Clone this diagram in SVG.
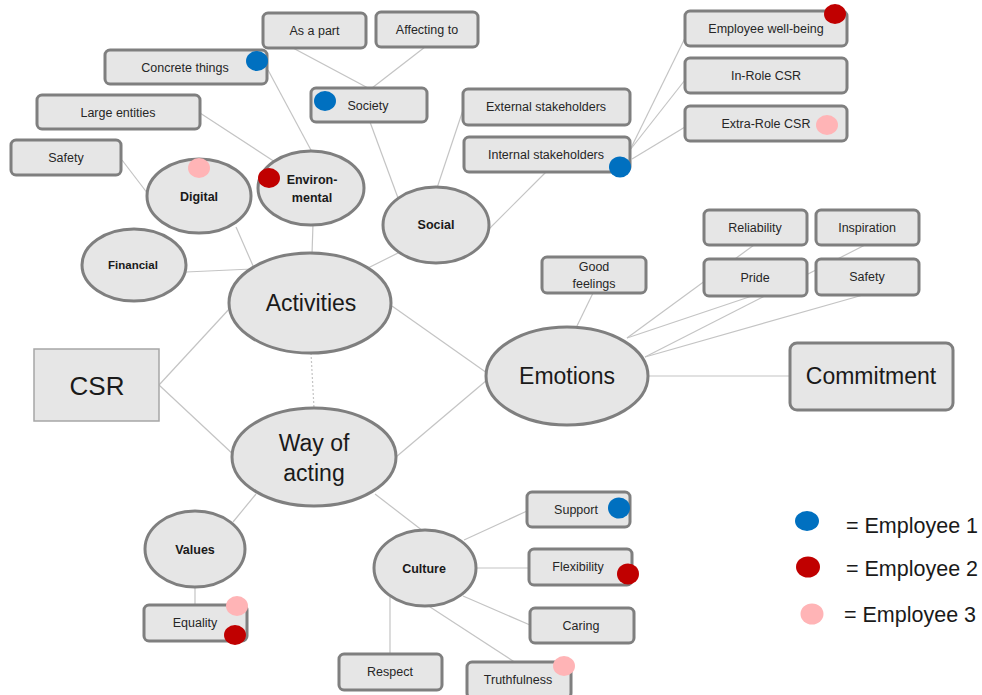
<svg xmlns="http://www.w3.org/2000/svg" width="982" height="695" viewBox="0 0 982 695">
<style>
.bx{fill:#e6e6e6;stroke:#7f7f7f;stroke-width:3}
.el{fill:#e6e6e6;stroke:#7f7f7f;stroke-width:3}
.ln{stroke:#c4c4c4;stroke-width:1.2;fill:none}
.t{font-family:"Liberation Sans",Arial,sans-serif;font-size:12.5px;fill:#262626;text-anchor:middle}
.tb{font-family:"Liberation Sans",Arial,sans-serif;font-size:12.5px;font-weight:bold;fill:#1a1a1a;text-anchor:middle}
.tl{font-family:"Liberation Sans",Arial,sans-serif;font-size:23px;fill:#1a1a1a;text-anchor:middle}
.lg{font-family:"Liberation Sans",Arial,sans-serif;font-size:21.5px;fill:#1a1a1a}
.b{fill:#0070c0}.r{fill:#c00000}.p{fill:#ffb4b6}
</style>
<rect width="982" height="695" fill="#ffffff"/>
<g id="connectors">
<line class="ln" x1="293" y1="48" x2="368" y2="88"/>
<line class="ln" x1="425" y1="47" x2="372" y2="88"/>
<line class="ln" x1="268" y1="70" x2="312" y2="152"/>
<line class="ln" x1="200" y1="113" x2="275" y2="162"/>
<line class="ln" x1="122" y1="160" x2="148" y2="194"/>
<line class="ln" x1="370" y1="122" x2="398" y2="198"/>
<line class="ln" x1="463" y1="110" x2="437" y2="188"/>
<line class="ln" x1="546" y1="172" x2="478" y2="240"/>
<line class="ln" x1="236" y1="227" x2="254" y2="268"/>
<line class="ln" x1="313" y1="224" x2="312" y2="254"/>
<line class="ln" x1="400" y1="252" x2="368" y2="268"/>
<line class="ln" x1="186" y1="272" x2="252" y2="269"/>
<line class="ln" x1="159" y1="385" x2="231" y2="307"/>
<line class="ln" x1="159" y1="385" x2="235" y2="456"/>
<line class="ln" x1="392" y1="306" x2="487" y2="373"/>
<line class="ln" x1="396" y1="457" x2="487" y2="380"/>
<line class="ln" x1="311" y1="353" x2="314" y2="408" stroke-dasharray="2,2"/>
<line class="ln" x1="593" y1="293" x2="576" y2="328"/>
<line class="ln" x1="627" y1="338" x2="754" y2="245"/>
<line class="ln" x1="627" y1="338" x2="752" y2="296"/>
<line class="ln" x1="645" y1="357" x2="865" y2="245"/>
<line class="ln" x1="645" y1="357" x2="863" y2="295"/>
<line class="ln" x1="647" y1="376" x2="790" y2="376"/>
<line class="ln" x1="630" y1="150" x2="685" y2="38"/>
<line class="ln" x1="630" y1="150" x2="685" y2="80"/>
<line class="ln" x1="632" y1="159" x2="685" y2="127"/>
<line class="ln" x1="256" y1="494" x2="233" y2="522"/>
<line class="ln" x1="375" y1="494" x2="423" y2="531"/>
<line class="ln" x1="195" y1="587" x2="195" y2="605"/>
<line class="ln" x1="464" y1="540" x2="527" y2="511"/>
<line class="ln" x1="476" y1="568" x2="529" y2="568"/>
<line class="ln" x1="463" y1="596" x2="530" y2="625"/>
<line class="ln" x1="390" y1="597" x2="390" y2="654"/>
<line class="ln" x1="427" y1="605" x2="516" y2="663"/>
</g>
<g id="as-a-part"><rect class="bx" x="263" y="13" width="103" height="35" rx="5"/><text class="t" x="314.5" y="35">As a part</text></g>
<g id="affecting-to"><rect class="bx" x="376" y="12" width="102" height="35" rx="5"/><text class="t" x="427" y="34">Affecting to</text></g>
<g id="concrete-things"><rect class="bx" x="105" y="50" width="162" height="34" rx="5"/><text class="t" x="185" y="72">Concrete things</text><ellipse class="b" cx="257" cy="61" rx="11" ry="10"/></g>
<g id="large-entities"><rect class="bx" x="37" y="95" width="163" height="34" rx="5"/><text class="t" x="118" y="117">Large entities</text></g>
<g id="safety-top"><rect class="bx" x="11" y="140" width="110" height="35" rx="5"/><text class="t" x="66" y="162">Safety</text></g>
<g id="society"><rect class="bx" x="311" y="88" width="116" height="34" rx="5"/><text class="t" x="368" y="110">Society</text><ellipse class="b" cx="325" cy="101" rx="11" ry="10"/></g>
<g id="external-stakeholders"><rect class="bx" x="463" y="89" width="167" height="36" rx="5"/><text class="t" x="546" y="111">External stakeholders</text></g>
<g id="internal-stakeholders"><rect class="bx" x="464" y="137" width="166" height="35" rx="5"/><text class="t" x="546" y="159">Internal stakeholders</text><ellipse class="b" cx="620" cy="167" rx="11" ry="10.5"/></g>
<g id="employee-well-being"><rect class="bx" x="685" y="11" width="162" height="35" rx="5"/><text class="t" x="766" y="33">Employee well-being</text><ellipse class="r" cx="835" cy="14" rx="11" ry="10"/></g>
<g id="in-role-csr"><rect class="bx" x="685" y="58" width="162" height="35" rx="5"/><text class="t" x="766" y="80">In-Role CSR</text></g>
<g id="extra-role-csr"><rect class="bx" x="685" y="106" width="162" height="35" rx="5"/><text class="t" x="766" y="128">Extra-Role CSR</text><ellipse class="p" cx="827" cy="125" rx="11" ry="10"/></g>
<g id="digital"><ellipse class="el" cx="199" cy="196" rx="52" ry="37"/><text class="tb" x="199" y="201">Digital</text><ellipse class="p" cx="199" cy="168" rx="11" ry="10"/></g>
<g id="environmental"><ellipse class="el" cx="311" cy="188" rx="53" ry="37"/><text class="tb" x="312" y="184">Environ-</text><text class="tb" x="312" y="202">mental</text><ellipse class="r" cx="269" cy="178" rx="11" ry="10"/></g>
<g id="social"><ellipse class="el" cx="436" cy="225" rx="53" ry="38"/><text class="tb" x="436" y="229">Social</text></g>
<g id="financial"><ellipse class="el" cx="134" cy="265" rx="52" ry="36"/><text class="tb" x="133" y="269" style="font-size:11.5px">Financial</text></g>
<g id="activities"><ellipse class="el" cx="310" cy="303" rx="81" ry="50"/><text class="tl" x="311" y="311">Activities</text></g>
<g id="csr"><rect x="34" y="349" width="125" height="72" fill="#e6e6e6" stroke="#a6a6a6" stroke-width="1.5"/><text class="tl" x="97" y="395" style="font-size:26px">CSR</text></g>
<g id="way-of-acting"><ellipse class="el" cx="314" cy="457" rx="82" ry="49"/><text class="tl" x="314" y="451">Way of</text><text class="tl" x="314" y="481">acting</text></g>
<g id="emotions"><ellipse class="el" cx="567" cy="376" rx="81" ry="49"/><text class="tl" x="567" y="384">Emotions</text></g>
<g id="commitment"><rect class="bx" x="790" y="343" width="163" height="67" rx="7"/><text class="tl" x="871" y="384">Commitment</text></g>
<g id="good-feelings"><rect class="bx" x="542" y="257" width="104" height="36" rx="5"/><text class="t" x="594" y="271">Good</text><text class="t" x="594" y="288">feelings</text></g>
<g id="reliability"><rect class="bx" x="704" y="210" width="103" height="35" rx="5"/><text class="t" x="755" y="232">Reliability</text></g>
<g id="inspiration"><rect class="bx" x="816" y="210" width="103" height="35" rx="5"/><text class="t" x="867" y="232">Inspiration</text></g>
<g id="pride"><rect class="bx" x="704" y="259" width="103" height="37" rx="5"/><text class="t" x="755" y="282">Pride</text></g>
<g id="safety-right"><rect class="bx" x="816" y="259" width="103" height="36" rx="5"/><text class="t" x="867" y="281">Safety</text></g>
<g id="values"><ellipse class="el" cx="195" cy="549" rx="50" ry="38"/><text class="tb" x="195" y="554">Values</text></g>
<g id="equality"><rect class="bx" x="144" y="605" width="103" height="36" rx="5"/><text class="t" x="195" y="627">Equality</text><ellipse class="p" cx="237" cy="606" rx="11" ry="10"/><ellipse class="r" cx="235" cy="635" rx="11" ry="10"/></g>
<g id="culture"><ellipse class="el" cx="425" cy="568" rx="51" ry="38"/><text class="tb" x="424" y="573">Culture</text></g>
<g id="support"><rect class="bx" x="527" y="492" width="103" height="35" rx="5"/><text class="t" x="576" y="514">Support</text><ellipse class="b" cx="619" cy="508" rx="11" ry="10.5"/></g>
<g id="flexibility"><rect class="bx" x="529" y="549" width="103" height="36" rx="5"/><text class="t" x="578" y="571">Flexibility</text><ellipse class="r" cx="628" cy="574" rx="11" ry="10.5"/></g>
<g id="caring"><rect class="bx" x="530" y="608" width="104" height="35" rx="5"/><text class="t" x="581" y="630">Caring</text></g>
<g id="respect"><rect class="bx" x="339" y="654" width="103" height="36" rx="5"/><text class="t" x="390" y="676">Respect</text></g>
<g id="truthfulness"><rect class="bx" x="467" y="662" width="104" height="36" rx="5"/><text class="t" x="518" y="684">Truthfulness</text><ellipse class="p" cx="564" cy="666" rx="11" ry="10"/></g>
<g id="legend">
<ellipse class="b" cx="807" cy="521" rx="12" ry="10"/><text class="lg" x="846" y="533">= Employee 1</text>
<ellipse class="r" cx="808" cy="567" rx="12" ry="10.5"/><text class="lg" x="846" y="576">= Employee 2</text>
<ellipse class="p" cx="812" cy="614" rx="11.5" ry="10.5"/><text class="lg" x="844" y="622">= Employee 3</text>
</g>
</svg>
